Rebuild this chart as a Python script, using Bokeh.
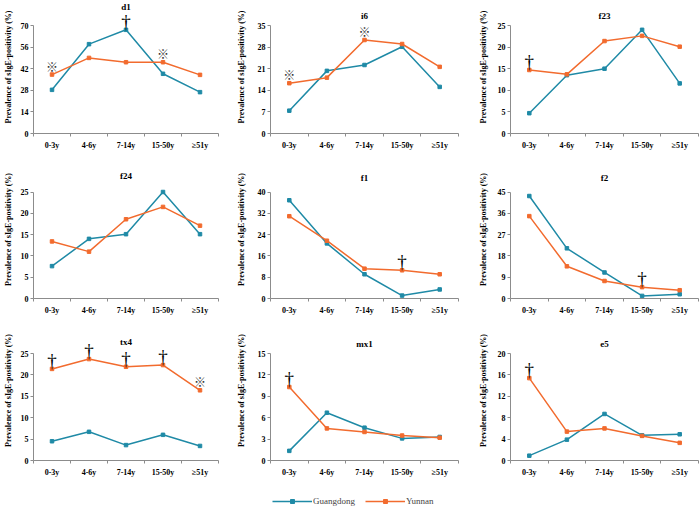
from bokeh.plotting import figure
from bokeh.models import Range1d, FixedTicker, ColumnDataSource, Legend, LegendItem
from bokeh.layouts import row, column
from bokeh.core.properties import value
from bokeh.embed import file_html
from bokeh.resources import INLINE

categories = ["0-3y", "4-6y", "7-14y", "15-50y", "\u226551y"]
series_names = ["Guangdong", "Yunnan"]

allergens = ["d1", "i6", "f23", "f24", "f1", "f2", "tx4", "mx1", "e5"]

guangdong = {
    "d1": [28.3, 57.9, 67.2, 38.7, 26.8],
    "i6": [7.4, 20.3, 22.2, 28.1, 15.1],
    "f23": [4.7, 13.5, 15.0, 24.0, 11.6],
    "f24": [7.6, 14.0, 15.1, 25.0, 15.1],
    "f1": [36.9, 20.7, 9.1, 1.1, 3.4],
    "f2": [43.3, 21.2, 11.0, 1.1, 1.8],
    "tx4": [4.5, 6.7, 3.6, 6.0, 3.4],
    "mx1": [1.35, 6.7, 4.6, 3.1, 3.3],
    "e5": [0.9, 3.9, 8.7, 4.7, 4.9],
}
yunnan = {
    "d1": [38.2, 49.0, 46.2, 46.2, 38.0],
    "i6": [16.3, 18.1, 30.3, 29.0, 21.6],
    "f23": [14.7, 13.7, 21.4, 22.6, 20.1],
    "f24": [13.4, 11.0, 18.6, 21.5, 17.1],
    "f1": [30.9, 21.7, 11.2, 10.6, 9.1],
    "f2": [34.8, 13.6, 7.4, 4.8, 3.5],
    "tx4": [21.4, 23.7, 21.9, 22.3, 16.4],
    "mx1": [10.3, 4.5, 4.0, 3.5, 3.2],
    "e5": [15.4, 5.4, 6.0, 4.6, 3.3],
}
y_max = {"d1": 70, "i6": 35, "f23": 25, "f24": 25, "f1": 40, "f2": 45,
         "tx4": 25, "mx1": 15, "e5": 20}
y_step = {"d1": 14, "i6": 7, "f23": 5, "f24": 5, "f1": 8, "f2": 9,
          "tx4": 5, "mx1": 3, "e5": 4}

# significance marks: (category index, series, symbol)
marks = {
    "d1": [(0, "Yunnan", "\u203b"), (2, "Guangdong", "\u2020"), (3, "Yunnan", "\u203b")],
    "i6": [(0, "Yunnan", "\u203b"), (2, "Yunnan", "\u203b")],
    "f23": [(0, "Yunnan", "\u2020")],
    "f24": [],
    "f1": [(3, "Yunnan", "\u2020")],
    "f2": [(3, "Yunnan", "\u2020")],
    "tx4": [(0, "Yunnan", "\u2020"), (1, "Yunnan", "\u2020"), (2, "Yunnan", "\u2020"),
            (3, "Yunnan", "\u2020"), (4, "Yunnan", "\u203b")],
    "mx1": [(0, "Yunnan", "\u2020")],
    "e5": [(0, "Yunnan", "\u2020")],
}

COL_GD = "#1F8AA6"
COL_YN = "#F26B2E"
AXIS_COL = "#8C8C8C"
SERIF = "Liberation Serif"

# layout (pixels)
col_w = [230, 230, 240]
col_left = [30, 40, 50]
col_right = [12, 2, 2]
col_label_standoff = [5, 9, 7]
row_h = [160, 160, 165]
row_bottom = [27, 22, 25]
row_maxtick = [25.0, 31.5, 33.0]
title_y = {"d1": 6, "i6": 15, "f23": 15, "f24": 15, "f1": 17, "f2": 17,
           "tx4": 21, "mx1": 23, "e5": 23}

xs = list(range(1, len(categories) + 1))


def make_panel(name, r, c):
    H = row_h[r]
    fb = H - row_bottom[r]          # frame bottom (px from top), frame top at 0
    mt = row_maxtick[r]
    ymax = y_max[name]
    y_end = ymax * fb / (fb - mt)
    p = figure(width=col_w[c], height=H, toolbar_location=None, output_backend="svg",
               x_range=Range1d(0.5, len(categories) + 0.5), y_range=Range1d(0, y_end),
               min_border_left=col_left[c], min_border_right=col_right[c],
               min_border_top=0, min_border_bottom=row_bottom[r])
    p.outline_line_color = None
    p.grid.visible = False
    p.background_fill_color = "white"
    p.border_fill_color = "white"

    # x axis
    xa = p.xaxis[0]
    xa.ticker = FixedTicker(ticks=xs, minor_ticks=[x - 0.5 for x in xs] + [xs[-1] + 0.5])
    xa.major_label_overrides = {x: cat for x, cat in zip(xs, categories)}
    xa.major_tick_line_color = None
    xa.major_tick_out = 0
    xa.major_tick_in = 0
    xa.minor_tick_line_color = AXIS_COL
    xa.minor_tick_out = 3
    xa.minor_tick_in = 0
    xa.axis_line_color = AXIS_COL
    xa.major_label_standoff = 4
    xa.major_label_text_font = SERIF
    xa.major_label_text_font_style = "bold"
    xa.major_label_text_font_size = "8px"
    xa.major_label_text_color = "black"

    # y axis
    ya = p.yaxis[0]
    ya.ticker = FixedTicker(ticks=list(range(0, ymax + 1, y_step[name])))
    ya.bounds = (0, ymax)
    ya.axis_line_color = AXIS_COL
    ya.major_tick_line_color = AXIS_COL
    ya.major_tick_out = 3
    ya.major_tick_in = 0
    ya.minor_tick_line_color = None
    ya.minor_tick_out = 0
    ya.major_label_standoff = 2
    ya.major_label_text_font = SERIF
    ya.major_label_text_font_style = "bold"
    ya.major_label_text_font_size = "8px"
    ya.major_label_text_color = "black"
    ya.axis_label = "Prevalence of sIgE-positivity (%)"
    ya.axis_label_text_font = SERIF
    ya.axis_label_text_font_style = "bold"
    ya.axis_label_text_font_size = "8px"
    ya.axis_label_text_color = "black"
    ya.axis_label_standoff = col_label_standoff[c]

    src = ColumnDataSource(dict(x=xs, gd=guangdong[name], yn=yunnan[name]))
    p.line("x", "gd", source=src, line_color=COL_GD, line_width=1.5)
    p.scatter("x", "gd", source=src, marker="square", size=3.5, color=COL_GD)
    p.line("x", "yn", source=src, line_color=COL_YN, line_width=1.5)
    p.scatter("x", "yn", source=src, marker="square", size=3.5, color=COL_YN)

    # significance marks
    series = {"Guangdong": guangdong[name], "Yunnan": yunnan[name]}
    dag = [(xs[i], series[s][i]) for i, s, sym in marks[name] if sym == "\u2020"]
    ref = [(xs[i], series[s][i]) for i, s, sym in marks[name] if sym == "\u203b"]
    if dag:
        dsrc = ColumnDataSource(dict(x=[d[0] for d in dag], y=[d[1] for d in dag],
                                     t=["\u2020"] * len(dag)))
        p.text(x="x", y="y", text="t", source=dsrc,
               text_font=value(SERIF), text_font_size="19px", text_align="center",
               text_baseline="bottom", text_color="black", y_offset=2)
    if ref:
        rsrc = ColumnDataSource(dict(x=[d[0] for d in ref], y=[d[1] for d in ref],
                                     t=["\u203b"] * len(ref)))
        p.text(x="x", y="y", text="t", source=rsrc,
               text_font=value("Noto Sans CJK SC"), text_font_size="12px", text_align="center",
               text_baseline="bottom", text_color="#333333", y_offset=0)

    # panel title
    ty = ymax * (fb - title_y[name]) / (fb - mt)
    p.text(x=[(xs[0] + xs[-1]) / 2], y=[ty], text=[name], text_font=value(SERIF),
           text_font_size="9px", text_font_style="bold", text_align="center",
           text_baseline="middle", text_color="black")
    return p


rows = []
for r in range(3):
    figs = [make_panel(allergens[r * 3 + c], r, c) for c in range(3)]
    rows.append(row(*figs))

# legend strip
leg = figure(width=sum(col_w), height=21, toolbar_location=None, output_backend="svg",
             x_range=Range1d(0, 1), y_range=Range1d(0, 1), min_border=0)
leg.outline_line_color = None
leg.axis.visible = False
leg.grid.visible = False
off = dict(x=[-5, -4], y=[-5, -5])
l1 = leg.line(x=off["x"], y=off["y"], line_color=COL_GD, line_width=1.5)
s1 = leg.scatter(x=off["x"], y=off["y"], marker="square", size=3.5, color=COL_GD)
l2 = leg.line(x=off["x"], y=off["y"], line_color=COL_YN, line_width=1.5)
s2 = leg.scatter(x=off["x"], y=off["y"], marker="square", size=3.5, color=COL_YN)
legend = Legend(items=[LegendItem(label=series_names[0], renderers=[l1, s1]),
                       LegendItem(label=series_names[1], renderers=[l2, s2])],
                orientation="horizontal", location=(272, 0))
legend.border_line_color = None
legend.background_fill_alpha = 0
legend.label_text_font = SERIF
legend.label_text_font_size = "9px"
legend.glyph_width = 40
legend.glyph_height = 10
legend.spacing = 10
legend.label_standoff = 1
legend.padding = 0
legend.margin = 0
leg.add_layout(legend, "center")

layout = column(*rows, leg)
open("out.html", "w").write(file_html(layout, INLINE))
